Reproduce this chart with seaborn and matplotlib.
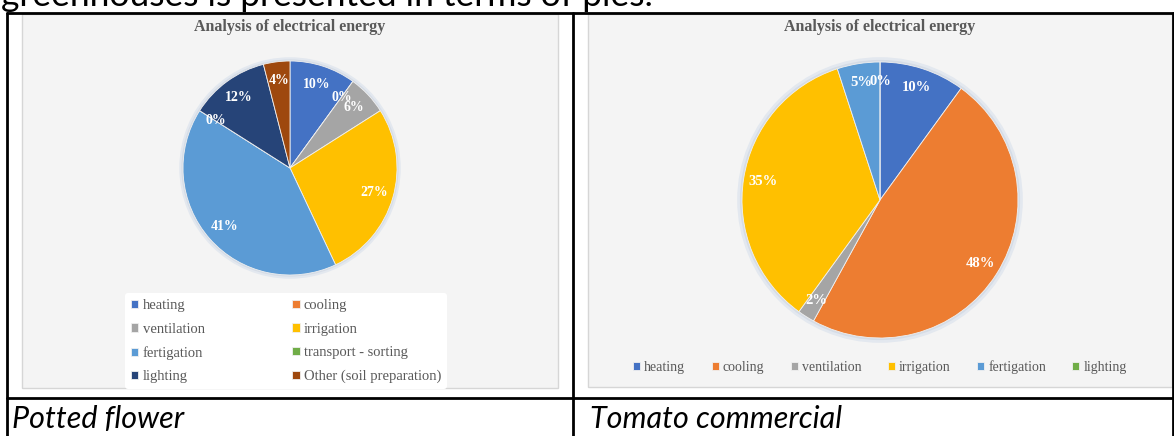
import matplotlib
matplotlib.use("Agg")
import matplotlib.pyplot as plt
import seaborn as sns
from matplotlib.patches import Rectangle, Circle
from matplotlib.lines import Line2D

# ---------------- data ----------------
left_categories = ["heating", "cooling", "ventilation", "irrigation", "fertigation",
                   "transport - sorting", "lighting", "Other (soil preparation)"]
left_values = [10, 0, 6, 27, 41, 0, 12, 4]

right_categories = ["heating", "cooling", "ventilation", "irrigation", "fertigation", "lighting"]
right_values = [10, 48, 2, 35, 5, 0]

chart_title = "Analysis of electrical energy"
left_caption = "Potted flower"
right_caption = "Tomato commercial"
top_text = "greenhouses is presented in terms of pies."

palette = {
    "heating": "#4472C4", "cooling": "#ED7D31", "ventilation": "#A5A5A5",
    "irrigation": "#FFC000", "fertigation": "#5B9BD5", "transport - sorting": "#70AD47",
    "lighting": "#264478", "Other (soil preparation)": "#9E480E",
}
right_palette = dict(palette)
right_palette["lighting"] = "#70AD47"

sns.set_theme(style="white")
plt.rcParams["font.family"] = ["DejaVu Sans"]

W, H = 1174, 436
fig = plt.figure(figsize=(W / 100, H / 100), dpi=100)
fig.patch.set_facecolor("white")


def fx(x):
    return x / W


def fy(y):
    return 1 - y / H


SERIF = "Liberation Serif"
DOC = "Lato"

# top cut-off sentence
fig.text(fx(1), fy(6), top_text, fontsize=25.5, family=DOC, color="black",
         ha="left", va="baseline")

# chart frames
for (x0, x1, y0, y1) in [(22, 558, 14, 388), (588, 1172, 14, 387)]:
    fig.add_artist(Rectangle((fx(x0), fy(y1)), fx(x1 - x0), (y1 - y0) / H,
                             transform=fig.transFigure, facecolor="#F4F4F4",
                             edgecolor="#D6D6D6", linewidth=1.0, zorder=0))

# table lines
lw = 2.0
fig.add_artist(Line2D([fx(7), fx(1174)], [fy(13), fy(13)], color="black", lw=lw, transform=fig.transFigure))
fig.add_artist(Line2D([fx(7), fx(1174)], [fy(398), fy(398)], color="black", lw=lw, transform=fig.transFigure))
fig.add_artist(Line2D([fx(7), fx(7)], [fy(13), fy(436)], color="black", lw=lw, transform=fig.transFigure))
fig.add_artist(Line2D([fx(573), fx(573)], [fy(13), fy(436)], color="black", lw=lw, transform=fig.transFigure))
fig.add_artist(Line2D([fx(1173), fx(1173)], [fy(13), fy(436)], color="black", lw=lw, transform=fig.transFigure))

# captions
fig.text(fx(12), fy(428), left_caption, fontsize=22, family=DOC, style="italic",
         ha="left", va="baseline", color="black")
fig.text(fx(590), fy(428), right_caption, fontsize=22, family=DOC, style="italic",
         ha="left", va="baseline", color="black")

# titles
for cx in (290, 880):
    fig.text(fx(cx), fy(27), chart_title, fontsize=11.5, family=SERIF, weight="bold",
             color="#595959", ha="center", va="center")

M = 1.08  # axis margin for glow


def draw_pie(cx, cy, r, values, cats, pal, pctdist, fsize):
    rr = r * M
    ax = fig.add_axes([fx(cx - rr), fy(cy + rr), 2 * rr / W, 2 * rr / H])
    ax.add_patch(Circle((0, 0), 1.035, facecolor="#E3E8EF", edgecolor="none", zorder=0))
    ax.add_patch(Circle((0, 0), 1.015, facecolor="#D5DCE6", edgecolor="none", zorder=0))
    wedges, texts, autotexts = ax.pie(
        values, colors=[pal[c] for c in cats], startangle=90, counterclock=False,
        autopct=lambda p: f"{p:.0f}%", pctdistance=pctdist, radius=1,
        wedgeprops=dict(linewidth=0.6, edgecolor="#F0F0F0"),
        textprops=dict(color="white", family=SERIF, weight="bold", fontsize=fsize))
    ax.set_xlim(-M, M)
    ax.set_ylim(-M, M)
    ax.set_aspect("equal")
    ax.axis("off")
    return wedges


lw_ = draw_pie(290, 168, 107, left_values, left_categories, palette, 0.82, 10)
rw_ = draw_pie(880, 200, 138, right_values, right_categories, right_palette, 0.86, 10.5)

# left legend (2 columns, row-wise order)
order = [0, 2, 4, 6, 1, 3, 5, 7]
leg = fig.legend([lw_[i] for i in order], [left_categories[i] for i in order],
                 ncol=2, loc="upper left", bbox_to_anchor=(fx(118), fy(286)),
                 frameon=True, facecolor="white", edgecolor="none", framealpha=1,
                 prop=dict(family=SERIF, size=10.5), labelcolor="#595959",
                 handlelength=0.5, handleheight=0.5, handletextpad=0.3,
                 columnspacing=6.0, labelspacing=0.72, borderpad=0.4)

fig.legend(rw_, right_categories, ncol=6, loc="center", bbox_to_anchor=(fx(880), fy(367)),
           frameon=False, prop=dict(family=SERIF, size=10), labelcolor="#595959",
           handlelength=0.5, handleheight=0.5, handletextpad=0.3, columnspacing=1.9)

fig.savefig("out.png", dpi=100)
